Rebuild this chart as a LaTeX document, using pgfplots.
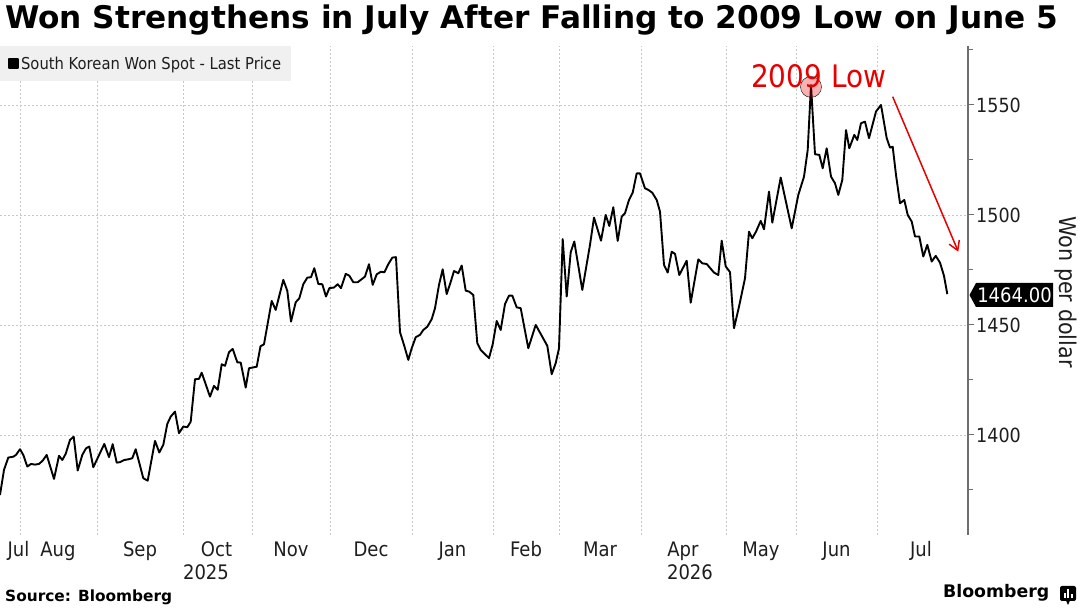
\documentclass[border=0pt]{standalone}
\usepackage{fontspec}
\setmainfont{DejaVu Sans}[FakeStretch=0.9]
\newfontfamily\tfont{DejaVu Sans}
\usepackage{pgfplots}
\pgfplotsset{compat=1.18}
\usetikzlibrary{arrows.meta}
\definecolor{gridc}{RGB}{200,200,200}
\definecolor{bred}{RGB}{232,0,0}
\definecolor{axc}{RGB}{110,110,110}
\definecolor{legbg}{RGB}{240,240,240}
\definecolor{txt}{RGB}{30,30,30}

\pgfplotstableread{
x y
0 1372.7
4 1384.1
8.3 1389.7
13.3 1390.1
16 1390.9
20 1393.5
23.3 1390.9
27.3 1385.6
31 1386.8
35 1386.5
39 1386.8
42.7 1388.3
46.7 1390.9
54 1380.0
59 1390.5
62.3 1388.6
65.7 1391.4
70 1397.7
73.7 1399.2
77.7 1383.8
82.3 1390.9
86 1393.9
89.3 1394.7
93.3 1385.3
98.3 1390.1
104.3 1395.9
109 1389.9
112.7 1395.8
116.7 1387.4
120 1387.6
124.3 1388.6
128.3 1388.9
132.3 1389.4
135.7 1393.5
143.3 1380.3
147.7 1379.2
155 1397.3
159.3 1392.0
163.3 1395.5
167.3 1405.0
170.7 1408.3
175 1410.6
179 1400.8
183.3 1403.8
187.3 1403.5
190.7 1406.0
195 1425.3
199 1425.5
201.7 1428.3
210 1417.4
214 1422.3
217.7 1420.5
221.7 1432.1
225 1431.4
229 1437.6
232.7 1439.1
237.3 1433.0
240.7 1432.9
245.7 1421.5
249 1430.3
252.3 1430.6
256.7 1431.0
260.5 1440.3
264 1441.2
271.7 1460.9
275.7 1456.8
283.3 1470.5
287.3 1465.5
291 1451.5
295.7 1460.3
299.3 1462.1
303.3 1468.5
307.3 1471.5
311 1471.7
314.3 1475.8
318.3 1468.6
322.3 1468.5
326 1462.9
329.3 1466.7
334 1467.0
337.7 1468.5
341 1466.7
345.7 1473.2
349.3 1472.4
353.3 1469.4
357.7 1469.4
361.7 1470.8
365 1472.0
369 1477.6
372.7 1468.2
376.7 1473.0
381 1474.2
384.3 1473.9
388.3 1477.6
392.3 1480.6
396 1480.8
400 1446.7
404 1440.9
408.3 1434.1
411.7 1439.4
415.7 1444.4
420 1445.5
423.3 1447.7
427.3 1449.2
431.7 1452.6
435 1457.6
439 1468.2
442.7 1475.3
446.7 1464.0
450 1468.5
454 1474.5
458.3 1473.5
461.7 1477.0
465.7 1465.6
469.3 1465.1
473.3 1463.6
477.3 1441.7
480.7 1438.6
485 1436.7
489 1434.9
492.7 1441.2
496.7 1451.8
500.7 1447.7
505 1459.5
509 1463.3
512.3 1463.3
516.7 1458.0
520.7 1457.6
528.3 1439.4
535.7 1450.0
540 1446.5
547.3 1440.5
551.7 1427.6
555.7 1432.6
559 1439.4
562.7 1489.0
566.7 1462.9
570.7 1483.0
574.3 1487.9
582.3 1465.9
590 1486.4
594 1498.8
601 1488.3
605.7 1500.0
609.3 1495.0
613.3 1503.5
617.7 1488.2
621.7 1499.2
625 1500.8
629 1506.8
632.7 1510.1
636.7 1518.9
640 1518.9
645 1512.1
648.3 1511.4
652.3 1510.1
656.7 1506.8
660 1501.5
664 1477.3
667.7 1473.8
671.7 1483.3
675 1482.3
679.3 1472.7
686.7 1479.2
690.7 1460.1
698.3 1479.8
702.3 1478.0
706.7 1477.7
714 1473.8
718.3 1472.7
721.7 1488.3
725.7 1476.6
730 1474.0
734 1448.5
739 1458.3
745 1471.2
749 1492.4
752.3 1489.4
756 1492.4
760.7 1497.3
764 1493.5
769 1510.6
772.3 1496.5
780.7 1517.0
791.7 1493.9
798.3 1509.1
804 1517.4
807.7 1529.5
811 1559.0
815 1527.6
819.3 1527.3
822.7 1521.2
826.7 1530.3
831 1517.4
835 1514.4
838.3 1509.1
842.3 1515.9
846 1538.6
849.3 1530.3
854.3 1536.4
857.3 1534.1
861 1541.7
865 1542.4
869 1534.9
876 1547.0
881 1550.0
886.7 1534.9
890 1530.6
892.7 1531.0
896 1518.2
900 1505.3
904.3 1506.8
907.7 1500.0
911.7 1497.0
915 1490.2
919.3 1490.2
923.3 1481.1
927.3 1486.4
931.7 1478.8
935.7 1481.4
940 1478.3
944 1472.3
947.3 1464.0
}\wondata

\begin{document}
\begin{tikzpicture}[x=1pt,y=1pt]
\useasboundingbox (0,0) rectangle (1080,608);
\begin{axis}[
  at={(0pt,73pt)}, anchor=south west,
  scale only axis, width=968pt, height=489pt,
  xmin=0, xmax=968, ymin=1354.5, ymax=1576.8,
  axis x line*=bottom, axis y line*=right,
  x axis line style={draw=none},
  y axis line style={draw=axc, line width=1.6pt, -},
  xtick={20,97,183,252,330,412,493,559,641,726,796,877},
  xticklabels={},
  xmajorgrids,
  x tick style={draw=none},
  extra x ticks={18.5,58,140,216.5,291,371,452.5,526,600,683,761,836.5,921},
  extra x tick labels={Jul,Aug,Sep,Oct,Nov,Dec,Jan,Feb,Mar,Apr,May,Jun,Jul},
  extra x tick style={grid=none, major tick length=0pt},
  ytick={1400,1450,1500,1550},
  minor ytick={1375,1425,1475,1525,1575},
  ymajorgrids,
  y tick style={draw=axc, line width=1pt},
  tick align=outside,
  major tick length=6pt, minor tick length=5pt,
  grid style={draw=gridc, line width=0.7pt, dash pattern=on 2pt off 2pt},
  /pgf/number format/assume math mode=true,
  /pgf/number format/1000 sep={},
  xticklabel style={font=\fontsize{20}{20}\selectfont, text=txt, anchor=base, yshift=-21.7pt},
  yticklabel style={font=\fontsize{19.5}{19.5}\selectfont, text=txt, anchor=west, inner sep=0pt, xshift=2pt},
  legend style={at={(0,1)}, anchor=north west, draw=none, fill=legbg,
     font=\fontsize{16.4}{16.4}\selectfont, text=txt, inner xsep=8pt, inner ysep=8.5pt,
     /tikz/every even column/.append style={column sep=2pt}},
  legend image code/.code={\fill[black] (0pt,-4.5pt) rectangle (9pt,4.5pt);},
  legend cell align=left,
]
\addplot[black, line width=1.9pt, line join=round] table[x=x,y=y] {\wondata};
\addlegendentry{South Korean Won Spot - Last Price}
\addplot[only marks, mark=*, mark size=10.5pt, mark options={fill=bred, draw=none, fill opacity=0.3}, forget plot] coordinates {(811,1558.2)};
\end{axis}
% title
\node[anchor=base west, inner sep=0] at (5,579.7) {\resizebox{1053pt}{!}{\tfont\bfseries Won Strengthens in July After Falling to 2009 Low on June 5}};
% year labels
\node[anchor=base, text=txt, font=\fontsize{20}{20}\selectfont] at (206,28.7) {2025};
\node[anchor=base, text=txt, font=\fontsize{20}{20}\selectfont] at (690,28.7) {2026};
% axis label
\node[rotate=-90, text=txt, font=\fontsize{23}{23}\selectfont] at (1066,316) {Won per dollar};
% last value tag
\fill[black] (969.5,313) -- (976,325) -- (1053,325) -- (1053,301) -- (976,301) -- cycle;
\node[text=white, font=\fontsize{20}{20}\selectfont, inner sep=0] at (1014.5,313) {1464.00};
% annotation
\node[anchor=base west, inner sep=0, text=bred, font=\fontsize{31}{31}\selectfont] at (751,520) {2009 Low};
\draw[bred, line width=1.5pt, -{Straight Barb[length=9pt, width=11pt]}] (892.7,511.3) -- (958.3,356.3);
% source
\node[anchor=base west, inner sep=0] at (5,6.3) {\resizebox{167pt}{!}{\tfont\bfseries Source: Bloomberg}};
\node[anchor=base west, inner sep=0] at (943,10) {\resizebox{106pt}{!}{\tfont\bfseries Bloomberg}};
\fill[black, rounded corners=2pt] (1060,7) rectangle (1076,22);
\fill[black] (1066,7.5) -- (1068,3) -- (1070,7.5) -- cycle;
\fill[white] (1063.5,10) rectangle (1065.5,15);
\fill[white] (1067,10) rectangle (1069,18.5);
\fill[white] (1070.5,10) rectangle (1072.5,13.5);
\end{tikzpicture}
\end{document}
